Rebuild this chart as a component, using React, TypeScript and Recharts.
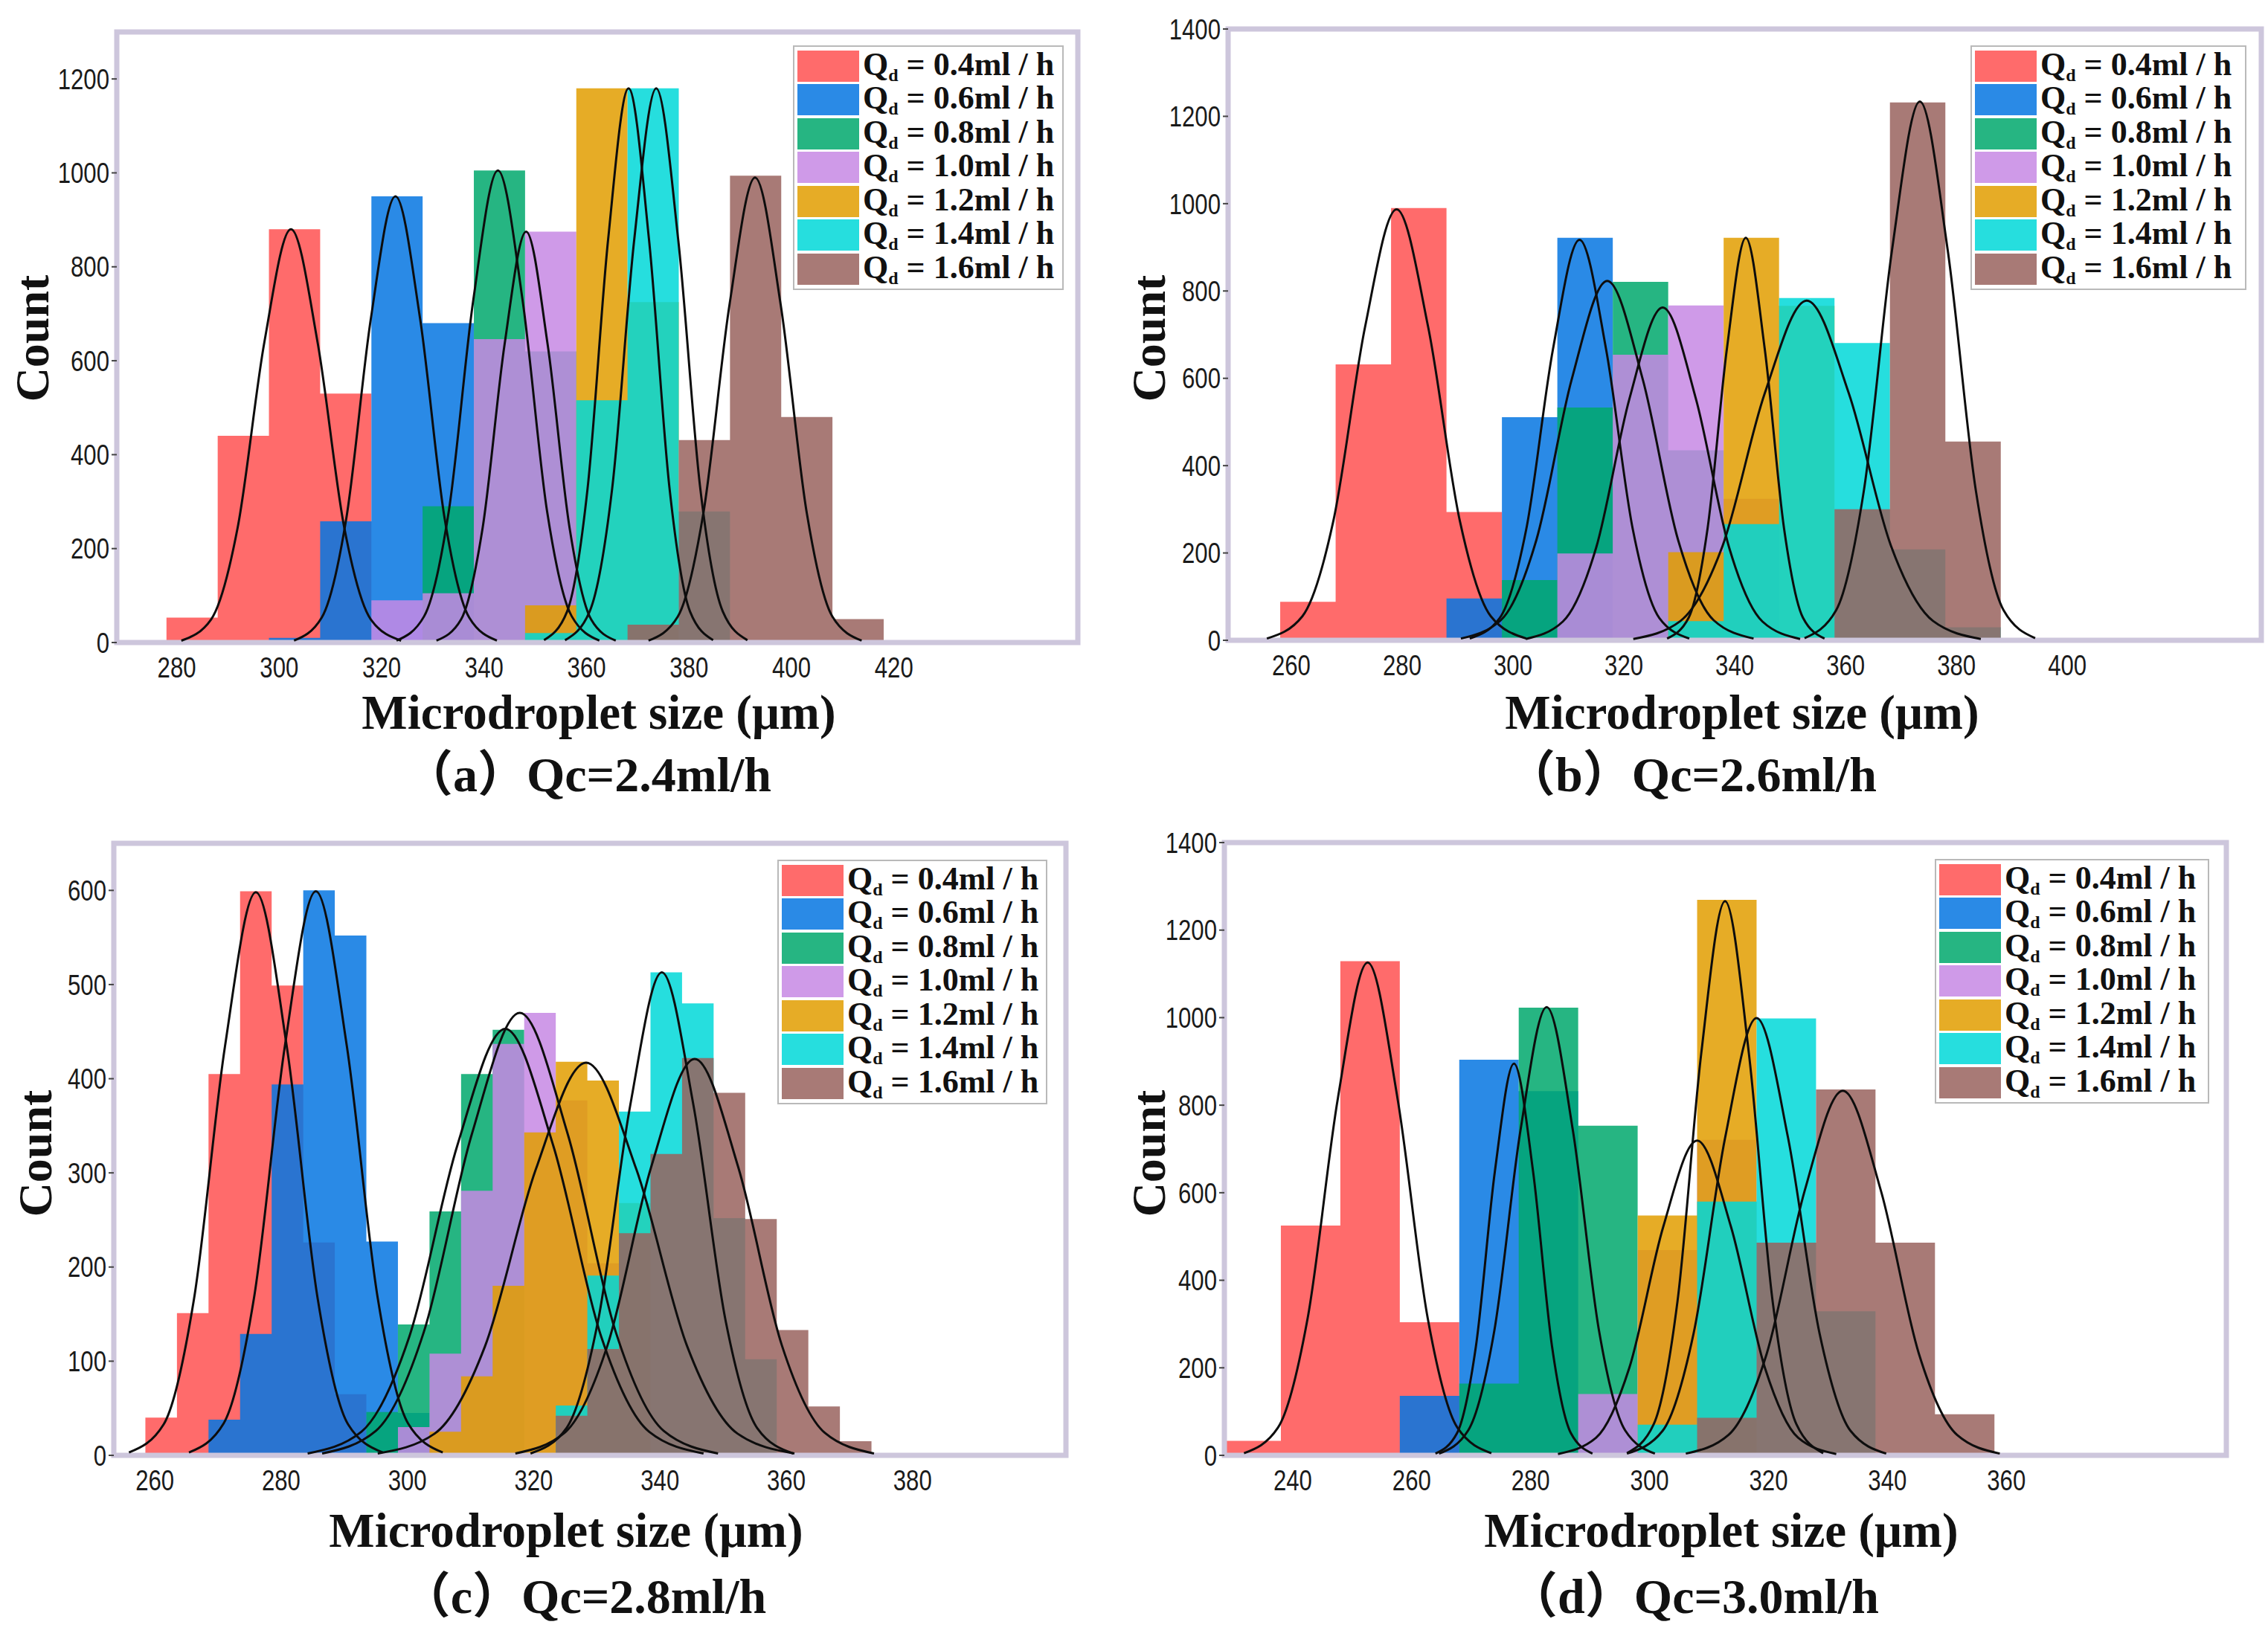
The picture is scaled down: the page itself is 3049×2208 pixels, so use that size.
import React from "react";
import { ComposedChart, Area, Line, XAxis, YAxis, ReferenceArea, Legend } from "recharts";

// dispersed-phase flow rates (legend) and their fill colours
const flowRates = ["0.4", "0.6", "0.8", "1.0", "1.2", "1.4", "1.6"];
const seriesColors = ["#ff5151", "#0576e2", "#00a86c", "#c788e4", "#e29e00", "#00d8d8", "#99635e"];

// (a) Qc = 2.4 ml/h
const aBinWidth = 10;
const aBinStart = [278, 298, 328, 318, 348, 348, 368];
const aCounts = [
  [53, 440, 880, 530],
  [10, 258, 950, 680],
  [290, 1005, 620],
  [90, 105, 646, 875],
  [79, 1180, 725],
  [20, 516, 1180, 279],
  [38, 431, 994, 480, 50],
];
const aFitX = [
  [280.9, 286.7, 291.9, 297.1, 302.3, 307.5, 312.7, 317.9, 323.8],
  [302.9, 308.3, 313.1, 317.9, 322.7, 327.5, 332.3, 337.1, 342.5],
  [322.9, 328.3, 333.1, 337.9, 342.7, 347.5, 352.3, 357.1, 362.5],
  [330.7, 335.5, 339.7, 344.0, 348.2, 352.4, 356.7, 360.9, 365.7],
  [351.7, 356.2, 360.2, 364.2, 368.2, 372.2, 376.2, 380.2, 384.7],
  [355.8, 360.6, 365.0, 369.3, 373.6, 377.9, 382.2, 386.6, 391.4],
  [372.1, 377.8, 382.8, 387.9, 392.9, 397.9, 403.0, 408.0, 413.7],
];
const aFitY = [
  [4, 49, 245, 639, 880, 639, 245, 49, 4],
  [4, 53, 264, 690, 950, 690, 264, 53, 4],
  [4, 56, 279, 730, 1005, 730, 279, 56, 4],
  [4, 49, 243, 635, 875, 635, 243, 49, 4],
  [5, 66, 328, 857, 1180, 857, 328, 66, 5],
  [5, 66, 328, 857, 1180, 857, 328, 66, 5],
  [4, 55, 275, 719, 990, 719, 275, 55, 4],
];
const aXTicks = [280, 300, 320, 340, 360, 380, 400, 420];
const aYTicks = [0, 200, 400, 600, 800, 1000, 1200];

// (b) Qc = 2.6 ml/h
const bBinWidth = 10;
const bBinStart = [258, 288, 298, 308, 328, 328, 358];
const bCounts = [
  [88, 632, 990, 294],
  [96, 511, 922],
  [138, 533, 821, 435],
  [199, 654, 767, 324],
  [202, 922, 766],
  [44, 266, 784, 681, 208, 30],
  [300, 1232, 455],
];
const bFitX = [
  [255.6, 262.0, 267.6, 273.3, 279.0, 284.7, 290.4, 296.0, 302.4],
  [292.2, 297.6, 302.4, 307.2, 312.0, 316.8, 321.6, 326.4, 331.8],
  [290.6, 297.8, 304.2, 310.6, 317.0, 323.4, 329.8, 336.2, 343.4],
  [302.3, 309.0, 315.0, 321.0, 327.0, 333.0, 339.0, 345.0, 351.8],
  [327.8, 331.7, 335.1, 338.6, 342.0, 345.4, 348.9, 352.3, 356.2],
  [321.7, 330.2, 337.8, 345.4, 353.0, 360.6, 368.2, 375.8, 384.4],
  [352.6, 358.3, 363.3, 368.4, 373.4, 378.4, 383.5, 388.5, 394.2],
];
const bFitY = [
  [4, 55, 274, 717, 987, 717, 274, 55, 4],
  [4, 51, 255, 666, 917, 666, 255, 51, 4],
  [4, 46, 229, 598, 823, 598, 229, 46, 4],
  [3, 43, 212, 553, 762, 553, 212, 43, 3],
  [4, 52, 256, 669, 922, 669, 256, 52, 4],
  [3, 44, 216, 565, 778, 565, 216, 44, 3],
  [5, 69, 343, 896, 1234, 896, 343, 69, 5],
];
const bXTicks = [260, 280, 300, 320, 340, 360, 380, 400];
const bYTicks = [0, 200, 400, 600, 800, 1000, 1200, 1400];

// (c) Qc = 2.8 ml/h
const cBinWidth = 5;
const cBinStart = [258.5, 268.5, 293.5, 298.5, 303.5, 323.5, 323.5];
const cCounts = [
  [40, 151, 405, 599, 499, 226, 65],
  [38, 129, 394, 600, 552, 227, 45],
  [46, 139, 259, 405, 452],
  [30, 108, 281, 437, 470, 377, 204],
  [25, 84, 180, 343, 418, 398, 268],
  [53, 191, 365, 513, 480, 252, 102],
  [42, 113, 236, 320, 422, 385, 251, 133, 52, 15],
];
const cFitX = [
  [255.9, 261.4, 266.2, 271.1, 276.0, 280.9, 285.8, 290.6, 296.1],
  [265.4, 270.9, 275.7, 280.6, 285.5, 290.4, 295.3, 300.1, 305.6],
  [284.2, 292.7, 300.3, 307.9, 315.5, 323.1, 330.7, 338.3, 346.9],
  [286.5, 295.0, 302.6, 310.2, 317.8, 325.4, 333.0, 340.6, 349.2],
  [295.3, 304.3, 312.3, 320.3, 328.3, 336.3, 344.3, 352.3, 361.3],
  [319.5, 325.2, 330.2, 335.3, 340.3, 345.3, 350.4, 355.4, 361.1],
  [317.1, 324.9, 331.7, 338.6, 345.5, 352.4, 359.3, 366.1, 373.9],
];
const cFitY = [
  [3, 33, 166, 434, 598, 434, 166, 33, 3],
  [3, 34, 167, 435, 599, 435, 167, 34, 3],
  [2, 25, 126, 329, 453, 329, 126, 25, 2],
  [2, 26, 131, 341, 470, 341, 131, 26, 2],
  [2, 23, 116, 303, 417, 303, 116, 23, 2],
  [2, 29, 143, 372, 513, 372, 143, 29, 2],
  [2, 24, 117, 306, 421, 306, 117, 24, 2],
];
const cXTicks = [260, 280, 300, 320, 340, 360, 380];
const cYTicks = [0, 100, 200, 300, 400, 500, 600];

// (d) Qc = 3.0 ml/h
const dBinWidth = 10;
const dBinStart = [228, 258, 268, 288, 298, 298, 308];
const dCounts = [
  [33, 525, 1129, 304],
  [136, 904, 832],
  [164, 1023, 753],
  [140, 469, 721],
  [548, 1269],
  [70, 580, 998, 329],
  [86, 486, 836, 486, 94],
];
const dFitX = [
  [231.8, 237.5, 242.5, 247.6, 252.6, 257.6, 262.7, 267.7, 273.4],
  [264.0, 267.6, 270.8, 274.0, 277.2, 280.4, 283.6, 286.8, 290.4],
  [264.6, 269.5, 273.9, 278.3, 282.7, 287.1, 291.5, 295.9, 300.9],
  [284.6, 291.0, 296.6, 302.3, 308.0, 313.7, 319.4, 325.0, 331.4],
  [296.2, 300.7, 304.7, 308.7, 312.7, 316.7, 320.7, 324.7, 329.2],
  [296.2, 302.2, 307.4, 312.7, 318.0, 323.3, 328.6, 333.8, 339.8],
  [306.1, 313.3, 319.7, 326.1, 332.5, 338.9, 345.3, 351.7, 358.9],
];
const dFitY = [
  [5, 63, 313, 817, 1126, 817, 313, 63, 5],
  [4, 50, 249, 650, 895, 650, 249, 50, 4],
  [4, 57, 285, 743, 1024, 743, 285, 57, 4],
  [3, 40, 200, 522, 719, 522, 200, 40, 3],
  [5, 71, 352, 919, 1266, 919, 352, 71, 5],
  [4, 56, 278, 725, 999, 725, 278, 56, 4],
  [4, 47, 232, 605, 833, 605, 232, 47, 4],
];
const dXTicks = [240, 260, 280, 300, 320, 340, 360];
const dYTicks = [0, 200, 400, 600, 800, 1000, 1200, 1400];

// histogram outline for a step area: one point per bin edge, closing at zero
const histRows = (start: number, width: number, counts: number[]) => [
  ...counts.map((c, i) => ({ x: start + i * width, y: c })),
  { x: start + counts.length * width, y: 0 },
];
const fitRows = (xs: number[], ys: number[]) => xs.map((x, i) => ({ x, y: ys[i] }));

const SERIF = '"Liberation Serif", "Times New Roman", "Noto Sans CJK SC", serif';
const tickFont: React.CSSProperties = {
  fontFamily: '"Liberation Sans", Arial, sans-serif',
  fontSize: 38,
  fill: "#1a1a1a",
};
const FILL_OPACITY = 0.85;

// narrow tick labels (the original uses a condensed sans face)
const XTick = (props: any) => (
  <g transform={`translate(${props.x},${props.y})`}>
    <text transform="scale(0.82,1)" textAnchor="middle" dy="0.71em" style={tickFont}>
      {props.payload.value}
    </text>
  </g>
);
const YTick = (props: any) => (
  <g transform={`translate(${props.x},${props.y})`}>
    <text transform="scale(0.82,1)" textAnchor="end" dy="0.36em" style={tickFont}>
      {props.payload.value}
    </text>
  </g>
);

const LegendBox = ({ width }: { width: number }) => (
  <div
    style={{
      width,
      boxSizing: "border-box",
      border: "2px solid #b9b9b9",
      background: "#fff",
      padding: "3px 4px",
    }}
  >
    {flowRates.map((r, i) => (
      <div key={r} style={{ display: "flex", alignItems: "center", height: 45.5 }}>
        <div style={{ width: 83, height: 42, background: seriesColors[i], opacity: FILL_OPACITY }} />
        <span
          style={{
            marginLeft: 5,
            fontFamily: SERIF,
            fontWeight: "bold",
            fontSize: 44,
            lineHeight: 1,
            whiteSpace: "nowrap",
            color: "#111",
          }}
        >
          Q<sub style={{ fontSize: 24, verticalAlign: "-0.35em" }}>d</sub> = {r}ml / h
        </span>
      </div>
    ))}
  </div>
);

type PanelProps = {
  caption: string;
  binWidth: number;
  binStart: number[];
  counts: number[][];
  fitX: number[][];
  fitY: number[][];
  xDomain: [number, number];
  yDomain: [number, number];
  xTicks: number[];
  yTicks: number[];
  left: number;
  top: number;
  yAxisWidth: number;
  marginTop: number;
  plotWidth: number;
  plotHeight: number;
  legendLeft: number;
  legendTop: number;
  legendWidth: number;
  countPos: [number, number];
  xLabelPos: [number, number];
  captionPos: [number, number];
};

const centered = (pos: [number, number], extra: React.CSSProperties = {}): React.CSSProperties => ({
  position: "absolute",
  left: pos[0],
  top: pos[1],
  transform: "translate(-50%, -50%)",
  fontFamily: SERIF,
  fontWeight: "bold",
  lineHeight: 0.9,
  whiteSpace: "nowrap",
  color: "#111",
  ...extra,
});

const Panel = (p: PanelProps) => {
  const xAxisHeight = 70;
  const width = p.yAxisWidth + p.plotWidth + 8;
  const height = p.marginTop + p.plotHeight + xAxisHeight + 10;
  return (
    <>
      <div style={{ position: "absolute", left: p.left, top: p.top }}>
        <ComposedChart
          width={width}
          height={height}
          margin={{ top: p.marginTop, right: 8, bottom: 10, left: 0 }}
        >
          <XAxis
            dataKey="x"
            type="number"
            domain={p.xDomain}
            ticks={p.xTicks}
            interval={0}
            allowDataOverflow
            height={xAxisHeight}
            axisLine={false}
            tickLine={false}
            tickSize={6}
            tickMargin={14}
            tick={<XTick />}
          />
          <YAxis
            type="number"
            domain={p.yDomain}
            ticks={p.yTicks}
            interval={0}
            allowDataOverflow
            width={p.yAxisWidth}
            axisLine={false}
            tickLine={{ stroke: "#444", strokeWidth: 2 }}
            tickSize={7}
            tickMargin={3}
            tick={<YTick />}
          />
          {p.counts.map((c, i) => (
            <Area
              key={`hist-${i}`}
              data={histRows(p.binStart[i], p.binWidth, c)}
              dataKey="y"
              name={`Qd = ${flowRates[i]}ml / h`}
              type="stepAfter"
              fill={seriesColors[i]}
              fillOpacity={FILL_OPACITY}
              stroke="none"
              dot={false}
              activeDot={false}
              isAnimationActive={false}
            />
          ))}
          {p.fitX.map((xs, i) => (
            <Line
              key={`fit-${i}`}
              data={fitRows(xs, p.fitY[i])}
              dataKey="y"
              type="monotone"
              stroke="#0d0d0d"
              strokeWidth={3}
              dot={false}
              activeDot={false}
              legendType="none"
              isAnimationActive={false}
            />
          ))}
          <ReferenceArea
            x1={p.xDomain[0]}
            x2={p.xDomain[1]}
            y1={p.yDomain[0]}
            y2={p.yDomain[1]}
            fill="none"
            fillOpacity={0}
            stroke="#cdc6dc"
            strokeWidth={7}
            ifOverflow="visible"
          />
          <Legend
            layout="vertical"
            align="center"
            verticalAlign="middle"
            wrapperStyle={{ left: p.legendLeft, top: p.legendTop, width: p.legendWidth }}
            content={() => <LegendBox width={p.legendWidth} />}
          />
        </ComposedChart>
      </div>
      <div style={centered(p.countPos, { fontSize: 64, transform: "translate(-50%, -50%) rotate(-90deg)" })}>
        Count
      </div>
      <div style={centered(p.xLabelPos, { fontSize: 65 })}>Microdroplet size (μm)</div>
      <div style={centered(p.captionPos, { fontSize: 66 })}>{p.caption}</div>
    </>
  );
};

const App = () => (
  <div
    style={{
      position: "absolute",
      left: 0,
      top: 0,
      width: 3049,
      height: 2208,
      background: "#fff",
      overflow: "hidden",
    }}
  >
    <Panel
      caption="（a）Qc=2.4ml/h"
      binWidth={aBinWidth}
      binStart={aBinStart}
      counts={aCounts}
      fitX={aFitX}
      fitY={aFitY}
      xDomain={[268.3, 455.9]}
      yDomain={[0, 1300]}
      xTicks={aXTicks}
      yTicks={aYTicks}
      left={0}
      top={0}
      yAxisWidth={157}
      marginTop={43}
      plotWidth={1292}
      plotHeight={821}
      legendLeft={1066}
      legendTop={61}
      legendWidth={364}
      countPos={[44, 455]}
      xLabelPos={[805, 958]}
      captionPos={[790, 1042]}
    />
    <Panel
      caption="（b）Qc=2.6ml/h"
      binWidth={bBinWidth}
      binStart={bBinStart}
      counts={bCounts}
      fitX={bFitX}
      fitY={bFitY}
      xDomain={[248.6, 435]}
      yDomain={[0, 1400]}
      xTicks={bXTicks}
      yTicks={bYTicks}
      left={1520}
      top={0}
      yAxisWidth={131}
      marginTop={39}
      plotWidth={1389}
      plotHeight={822}
      legendLeft={1129}
      legendTop={61}
      legendWidth={371}
      countPos={[1545, 455]}
      xLabelPos={[2342, 958]}
      captionPos={[2274, 1042]}
    />
    <Panel
      caption="（c）Qc=2.8ml/h"
      binWidth={cBinWidth}
      binStart={cBinStart}
      counts={cCounts}
      fitX={cFitX}
      fitY={cFitY}
      xDomain={[253.5, 404.3]}
      yDomain={[0, 650]}
      xTicks={cXTicks}
      yTicks={cYTicks}
      left={0}
      top={1100}
      yAxisWidth={153}
      marginTop={34}
      plotWidth={1280}
      plotHeight={823}
      legendLeft={1045}
      legendTop={56}
      legendWidth={363}
      countPos={[48, 1551]}
      xLabelPos={[761, 2058]}
      captionPos={[785, 2147]}
    />
    <Panel
      caption="（d）Qc=3.0ml/h"
      binWidth={dBinWidth}
      binStart={dBinStart}
      counts={dCounts}
      fitX={dFitX}
      fitY={dFitY}
      xDomain={[228.5, 397]}
      yDomain={[0, 1400]}
      xTicks={dXTicks}
      yTicks={dYTicks}
      left={1520}
      top={1100}
      yAxisWidth={126}
      marginTop={33}
      plotWidth={1347}
      plotHeight={824}
      legendLeft={1081}
      legendTop={55}
      legendWidth={369}
      countPos={[1545, 1551]}
      xLabelPos={[2314, 2058]}
      captionPos={[2277, 2147]}
    />
  </div>
);

export default App;
